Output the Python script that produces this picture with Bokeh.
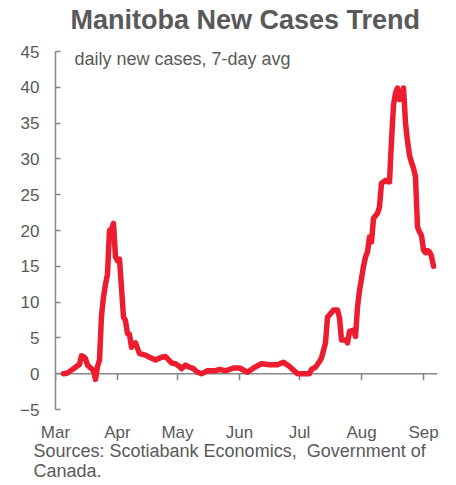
import pandas as pd
from bokeh.plotting import figure
from bokeh.models import ColumnDataSource, Range1d, FixedTicker, Span, Label, Title
from bokeh.embed import file_html
from bokeh.resources import INLINE

# Manitoba daily new COVID-19 cases, 7-day moving average (2020)
dates = [
    "2020-03-05", "2020-03-07", "2020-03-09", "2020-03-11", "2020-03-12", "2020-03-13",
    "2020-03-14", "2020-03-15", "2020-03-16", "2020-03-17", "2020-03-19", "2020-03-20",
    "2020-03-21", "2020-03-22", "2020-03-23", "2020-03-24", "2020-03-25", "2020-03-26",
    "2020-03-27", "2020-03-28", "2020-03-29", "2020-03-30", "2020-03-31", "2020-04-01",
    "2020-04-02", "2020-04-04", "2020-04-05", "2020-04-06", "2020-04-07", "2020-04-08",
    "2020-04-09", "2020-04-10", "2020-04-12", "2020-04-15", "2020-04-17", "2020-04-20",
    "2020-04-23", "2020-04-25", "2020-04-26", "2020-04-28", "2020-04-30", "2020-05-02",
    "2020-05-03", "2020-05-05", "2020-05-07", "2020-05-09", "2020-05-11", "2020-05-13",
    "2020-05-16", "2020-05-20", "2020-05-22", "2020-05-25", "2020-05-29", "2020-06-01",
    "2020-06-05", "2020-06-08", "2020-06-12", "2020-06-16", "2020-06-20", "2020-06-23",
    "2020-06-26", "2020-06-28", "2020-06-30", "2020-07-06", "2020-07-07", "2020-07-09",
    "2020-07-11", "2020-07-12", "2020-07-14", "2020-07-15", "2020-07-16", "2020-07-18",
    "2020-07-20", "2020-07-21", "2020-07-22", "2020-07-24", "2020-07-25", "2020-07-26",
    "2020-07-28", "2020-07-29", "2020-07-30", "2020-07-31", "2020-08-02", "2020-08-03",
    "2020-08-04", "2020-08-05", "2020-08-06", "2020-08-07", "2020-08-09", "2020-08-10",
    "2020-08-11", "2020-08-13", "2020-08-14", "2020-08-15", "2020-08-16", "2020-08-17",
    "2020-08-18", "2020-08-19", "2020-08-20", "2020-08-21", "2020-08-22", "2020-08-23",
    "2020-08-24", "2020-08-25", "2020-08-26", "2020-08-27", "2020-08-28", "2020-08-29",
    "2020-08-30", "2020-08-31", "2020-09-01", "2020-09-02", "2020-09-03", "2020-09-04",
    "2020-09-05", "2020-09-06",
]
cases_7d = [
    0.0, 0.1, 0.5, 0.9, 1.1, 1.3,
    2.5, 2.4, 2.1, 1.2, 0.7, 0.4,
    -0.8, 1.0, 1.9, 8.1, 10.7, 12.5,
    13.9, 20.0, 20.2, 21.0, 16.3, 15.8,
    16.0, 7.9, 7.4, 5.6, 5.5, 3.7,
    4.2, 4.3, 2.8, 2.6, 2.3, 1.9,
    2.3, 2.4, 2.1, 1.5, 1.4, 1.0,
    0.7, 1.2, 0.9, 0.7, 0.2, 0.0,
    0.4, 0.4, 0.6, 0.4, 0.8, 0.8,
    0.2, 0.8, 1.4, 1.25, 1.25, 1.6,
    1.0, 0.5, 0.0, 0.0, 0.6, 0.9,
    1.7, 2.2, 4.3, 7.9, 8.2, 8.9,
    8.9, 7.8, 4.7, 4.7, 4.3, 5.9,
    6.1, 5.2, 9.3, 11.6, 15.0, 16.3,
    17.0, 19.1, 18.4, 21.7, 22.4, 23.3,
    26.6, 27.0, 26.8, 26.8, 32.5, 37.5,
    39.2, 39.9, 38.3, 38.5, 39.9, 35.0,
    32.5, 30.5, 29.5, 28.7, 27.5, 20.5,
    19.8, 19.3, 17.3, 16.9, 17.2, 17.0,
    16.4, 15.0,
]

month_starts = ["2020-03-01", "2020-04-01", "2020-05-01", "2020-06-01",
                "2020-07-01", "2020-08-01", "2020-09-01"]
month_labels = ["Mar", "Apr", "May", "Jun", "Jul", "Aug", "Sep"]
y_ticks = [-5, 0, 5, 10, 15, 20, 25, 30, 35, 40, 45]

source_lines = ["Sources: Scotiabank Economics,\u00a0 Government of", "Canada."]

TEXT = "#595959"
AXIS = "#868686"
RED = "#ED1C2E"
FONT = "Liberation Sans"

src = ColumnDataSource(dict(date=pd.to_datetime(dates), val=cases_7d))

p = figure(
    width=456, height=485, x_axis_type="datetime",
    x_range=Range1d(pd.Timestamp("2020-03-01"), pd.Timestamp("2020-09-08")),
    y_range=Range1d(-5, 45),
    output_backend="svg", toolbar_location=None,
    min_border_left=55, min_border_right=19, min_border_top=51, min_border_bottom=76,
)
p.outline_line_color = None
p.grid.visible = False
p.background_fill_color = "white"
p.border_fill_color = "white"

# thin empty band between the frame and the title, so the title sits near the top edge
p.add_layout(Title(text=" ", text_font_size="1px", standoff=8), "above")

p.title.text = "Manitoba New Cases Trend"
p.title.text_font = FONT
p.title.text_font_size = "27px"
p.title.text_font_style = "bold"
p.title.text_color = TEXT
p.title.align = "left"
p.title.offset = 15
p.title.vertical_align = "top"
p.title.standoff = 8

# y axis: ticks point inward
p.yaxis.ticker = FixedTicker(ticks=y_ticks)
p.yaxis.axis_line_color = AXIS
p.yaxis.axis_line_width = 1.5
p.yaxis.major_tick_line_color = AXIS
p.yaxis.major_tick_line_width = 1.5
p.yaxis.major_tick_in = 5
p.yaxis.major_tick_out = 0
p.yaxis.minor_tick_line_color = None
p.yaxis.major_label_text_font = FONT
p.yaxis.major_label_text_font_size = "17px"
p.yaxis.major_label_text_color = TEXT
p.yaxis.major_label_standoff = 16

# x axis: month labels sit at the bottom, the axis line crosses at zero
month_ms = [pd.Timestamp(m).value // 10**6 for m in month_starts]
p.xaxis.ticker = FixedTicker(ticks=month_ms)
p.xaxis.major_label_overrides = {t: lab for t, lab in zip(month_ms, month_labels)}
p.xaxis.axis_line_color = None
p.xaxis.major_tick_line_color = None
p.xaxis.major_tick_out = 0
p.xaxis.major_tick_in = 0
p.xaxis.minor_tick_line_color = None
p.xaxis.major_label_text_font = FONT
p.xaxis.major_label_text_font_size = "17px"
p.xaxis.major_label_text_color = TEXT
p.xaxis.major_label_standoff = 13

zero = Span(location=0, dimension="width", line_color=AXIS, line_width=1.5, level="underlay")
p.add_layout(zero)
tick_x = pd.to_datetime(month_starts)
p.segment(x0=tick_x, x1=tick_x, y0=[0] * len(tick_x), y1=[-0.9] * len(tick_x),
          line_color=AXIS, line_width=1.5)

p.line(x="date", y="val", source=src, line_color=RED, line_width=5.5,
       line_join="round", line_cap="round")

p.add_layout(Label(x=pd.Timestamp("2020-03-10 12:00"), y=43.95, text="daily new cases, 7-day avg",
                   text_font=FONT, text_font_size="18px", text_color=TEXT,
                   text_baseline="middle"))

# source note under the month labels
for line_text, gap in zip(source_lines, [-8, 4]):
    p.add_layout(Title(text=line_text, align="left", offset=-22, standoff=gap,
                       vertical_align="top", text_font=FONT, text_font_size="18px",
                       text_color=TEXT, text_font_style="normal"), "below")

open("out.html", "w").write(file_html(p, INLINE))
